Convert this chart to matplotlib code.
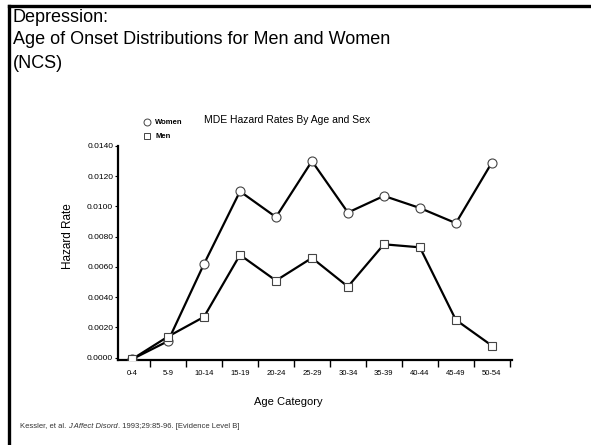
import matplotlib
matplotlib.use("Agg")
import matplotlib.pyplot as plt
from matplotlib.lines import Line2D

categories = ["0-4", "5-9", "10-14", "15-19", "20-24", "25-29",
              "30-34", "35-39", "40-44", "45-49", "50-54"]
women = [-0.0001, 0.0011, 0.0062, 0.0110, 0.0093, 0.0130,
         0.0096, 0.0107, 0.0099, 0.0089, 0.0129]
men = [-0.0001, 0.0014, 0.0027, 0.0068, 0.0051, 0.0066,
       0.0047, 0.0075, 0.0073, 0.0025, 0.0008]
yticks = [0.0, 0.002, 0.004, 0.006, 0.008, 0.010, 0.012, 0.014]

plt.rcParams["font.family"] = ["Liberation Sans", "DejaVu Sans"]

W, H = 591, 445
fig = plt.figure(figsize=(W / 100, H / 100), dpi=100)

# slide frame (left + top)
fig.add_artist(Line2D([8.5 / W, 8.5 / W], [0, 1 - 5.5 / H], color="black", lw=2.4))
fig.add_artist(Line2D([8.5 / W, 1], [1 - 5.5 / H, 1 - 5.5 / H], color="black", lw=2.4))

# slide title
title_lines = ["Depression:", "Age of Onset Distributions for Men and Women", "(NCS)"]
for i, t in enumerate(title_lines):
    fig.text(13 / W, 1 - (17 + i * 23) / H, t, fontsize=13, va="center", ha="left")

ax = fig.add_axes([118 / W, 1 - 360 / H, (512 - 118) / W, (360 - 146) / H])
x = list(range(len(categories)))
ax.plot(x, women, color="black", lw=1.6, marker="o", ms=6.5,
        mfc="white", mec="#444444", mew=0.8, zorder=3)
ax.plot(x, men, color="black", lw=1.6, marker="s", ms=6,
        mfc="white", mec="#444444", mew=0.8, zorder=3)

ax.set_xlim(-0.39, 10.56)
ax.set_ylim(-0.00015, 0.014)
for s in ["top", "right"]:
    ax.spines[s].set_visible(False)
ax.spines["left"].set_linewidth(1.6)
ax.spines["bottom"].set_linewidth(1.6)

ax.set_xticks([i + 0.5 for i in x])
ax.set_xticklabels([])
ax.set_xticks(x, minor=True)
ax.set_xticklabels(categories, minor=True, fontsize=5.5)
ax.tick_params(axis="x", which="major", direction="out", length=5, width=1)
ax.tick_params(axis="x", which="minor", length=0, pad=7)

ax.set_yticks(yticks)
ax.set_yticklabels([f"{v:.4f}" for v in yticks], fontsize=6)
ax.tick_params(axis="y", direction="out", length=2, width=0.8, pad=1.5)

ax.set_ylabel("Hazard Rate", fontsize=8.5)
ax.yaxis.set_label_coords(74 / W, 1 - 236 / H, transform=fig.transFigure)
ax.set_xlabel("Age Category", fontsize=8)
ax.xaxis.set_label_coords(288 / W, 1 - 402 / H, transform=fig.transFigure)
ax.xaxis.label.set_va("center")

# chart title + legend
fig.text(204 / W, 1 - 120 / H, "MDE Hazard Rates By Age and Sex",
         fontsize=7.5, va="center", ha="left")
fig.add_artist(Line2D([147 / W], [1 - 122 / H], marker="o", ms=5, mfc="white",
                      mec="#444444", mew=0.7, ls="none"))
fig.add_artist(Line2D([147 / W], [1 - 136 / H], marker="s", ms=5, mfc="white",
                      mec="#444444", mew=0.7, ls="none"))
fig.text(155 / W, 1 - 122 / H, "Women", fontsize=5.5, weight="bold",
         va="center", ha="left")
fig.text(155 / W, 1 - 136 / H, "Men", fontsize=5.5, weight="bold",
         va="center", ha="left")

# citation, italic journal name in the middle
fig.canvas.draw()
r = fig.canvas.get_renderer()
parts = [("Kessler, et al. ", "normal"), ("J Affect Disord", "italic"),
         (". 1993;29:85-96. [Evidence Level B]", "normal")]
xpos = 20
for txt, style in parts:
    t = fig.text(xpos / W, 1 - 426 / H, txt, fontsize=5.5, color="#333333",
                 style=style, va="center", ha="left")
    xpos += t.get_window_extent(r).width

fig.savefig("out.png", dpi=100)
